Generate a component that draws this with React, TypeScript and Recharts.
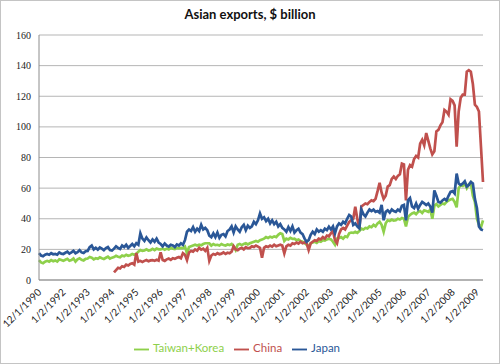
import { LineChart, Line, XAxis, YAxis, CartesianGrid, Legend } from 'recharts'

// one row per year block of 12 months, starting Dec 1990
const TAIWAN_KOREA = [
    13, 11.5, 11, 12, 12.5, 12, 13, 12.3, 12.8, 12, 13.5, 13,
    12.5, 13.2, 13.8, 12.6, 13, 14, 12, 13.5, 14.2, 13.2, 12.8, 13.8,
    14, 15, 14.5, 13.5, 14.2, 13.8, 14.8, 14.2, 13.7, 14.5, 15.2, 14,
    14.6, 15, 15.8, 15.2, 14.8, 16, 15.5, 16.5, 15.8, 16.2, 17, 16.5,
    17, 18.5, 19.6, 19, 19.3, 20, 19.2, 19.5, 20.3, 19.5, 20.5, 20,
    20, 20.5, 19.8, 20.5, 20, 21, 20.4, 20.2, 21, 20.6, 21, 20.8,
    21.8, 17.5, 21.5, 22, 22.5, 23, 22.5, 23, 22.6, 23.5, 24, 24,
    24, 22.5, 23.5, 22.8, 23, 22.5, 23.5, 22.8, 22.5, 23.2, 22.8, 23.5,
    22, 19.6, 23, 23.5, 22.8, 23.5, 24, 23.2, 24, 24.5, 25, 25.5,
    25, 26, 26.5, 27, 28, 27.5, 28.3, 27.8, 28.5, 28, 29.5, 30.5,
    30, 25.5, 27, 26.5, 27.5, 26.8, 27, 26, 26.5, 25.5, 25, 24,
    23, 22, 24, 24.5, 25, 24.3, 25.5, 25, 26, 25.8, 26.5, 27,
    26.5, 25, 23, 27, 27.5, 28, 27, 28.5, 28, 30.5, 31, 30.8,
    31.5, 30.8, 32, 33.5, 33, 34, 33.7, 35, 34.5, 36, 35, 37,
    38, 36, 31.5, 37, 39, 38.5, 39.5, 38.8, 39, 40, 39.5, 40.5,
    40, 35, 41, 42.5, 43.5, 44, 43, 44.5, 45, 43.8, 45.5, 45,
    44.5, 46, 40, 48.5, 49.5, 48, 49, 50, 49.5, 51, 52, 52.5,
    53, 51, 47.5, 60, 62, 61.5, 63, 60, 62.5, 63.5, 55, 51,
    40, 36, 34.5, 39,
]

const CHINA = [
    null, null, null, null, null, null, null, null, null, null, null, null,
    null, null, null, null, null, null, null, null, null, null, null, null,
    null, null, null, null, null, null, null, null, null, null, null, null,
    null, 5, 6.5, 8, 7.5, 9, 8.5, 10, 9.5, 10.5, 11, 10,
    17.6, 12, 12.5, 11.8, 12.5, 13, 12.2, 12.8, 13, 12.5, 13.2, 12.6,
    18, 13, 12.5, 13.5, 14, 13.2, 14.2, 13.8, 14.5, 15, 14.2, 17.5,
    16.5, 13, 18, 19, 18.5, 20, 19.2, 21, 19.8, 20.5, 19, 21,
    12.5, 16, 17, 16.5, 17.5, 16.8, 17.2, 18, 17, 17.8, 17.5, 18.5,
    22, 20, 19.5, 20.5, 21, 20, 21.5, 20.8, 21, 22, 21.5, 22.5,
    21.8, 21, 14.5, 21, 22, 21.5, 22.5, 21.8, 23, 22, 22.5, 23,
    22.5, 17.4, 22, 23, 22.5, 24, 23.5, 24.5, 23.8, 25, 24, 24.5,
    24, 19.6, 24, 25, 26, 25.5, 27, 26.5, 28, 27, 29, 28.5,
    30.5, 32, 26, 24, 30, 33, 34, 33, 35.5, 38, 39, 40,
    47.9, 40, 33.7, 48, 49, 50, 49.5, 51, 52, 51.5, 53, 58,
    63.5, 57, 53, 55, 61, 62, 66, 67.5, 66, 68, 69, 76,
    75.5, 52, 72, 75, 74, 79, 81, 80, 89, 91.5, 88, 96,
    91, 86, 82, 84, 97, 98, 101, 103, 111, 110, 108, 118,
    117, 114, 87, 110, 119, 121, 121, 136, 137, 136, 128, 114.5,
    113, 110, 87, 64,
]

const JAPAN = [
    17.5, 16, 15.5, 16.5, 17, 16.5, 17.5, 16.8, 17, 16.5, 18, 17.2,
    17, 17.8, 18.5, 17.2, 18, 19, 17.5, 18.2, 19.5, 18, 17.6, 18.8,
    19, 21.5, 22.5, 20, 21, 19.8, 21.2, 20.5, 19.5, 20.8, 21.5, 19.6,
    19.2, 20.5, 22, 21, 20.3, 22.5, 21.5, 23, 21, 22.2, 23.5, 22,
    24, 23, 30.5, 27, 25.5, 27.8, 26, 24.5, 26.5, 25, 27, 24.5,
    23.5, 22, 23.8, 22.5, 21.8, 23, 22.6, 21.5, 23.2, 22.5, 24, 23,
    26, 31.5, 33, 32, 34.5, 31.5, 33.5, 32, 36, 33, 34, 32.5,
    29, 28, 30.5, 28, 31, 27.5, 29.5, 30, 28.5, 32, 33, 35,
    31, 35, 33, 31.5, 34.5, 36, 32.5, 35.5, 34, 35, 38, 36.5,
    39, 43.5, 40, 41, 38.5, 40, 37, 39, 36.5, 38, 35, 36.5,
    34, 33, 31.5, 34.5, 32, 35, 31, 32.5, 33.5, 31, 30, 27,
    25, 26, 29.5, 31.5, 30, 33, 31.5, 32.5, 31.5, 33.5, 32.6, 34.8,
    33, 35, 30.5, 35, 37, 36, 38, 37, 40, 42.5, 41.5, 36,
    37, 35, 33.7, 46, 43, 41.5, 44, 46, 45, 46, 44.5, 45,
    44, 49, 39, 44.5, 45.5, 44, 46, 45, 44.5, 46, 45, 48.5,
    49, 39, 52, 53.5, 48, 47, 50, 46.5, 49, 51, 50, 49,
    50, 48, 44, 58.5, 55, 51, 50.5, 52, 53, 52, 55, 57.5,
    58, 56.5, 69.5, 63, 62, 63, 64.5, 61, 62, 64, 63, 53,
    47, 35, 33, 32.5,
]

const TICK_LABELS = [
    '12/1/1990', '1/2/1992', '1/2/1993', '1/2/1994', '1/2/1995', '1/2/1996', '1/2/1997',
    '1/2/1998', '1/2/1999', '1/2/2000', '1/2/2001', '1/2/2002', '1/2/2003', '1/2/2004',
    '1/2/2005', '1/2/2006', '1/2/2007', '1/2/2008', '1/2/2009',
]

const Y_TICKS = [0, 20, 40, 60, 80, 100, 120, 140, 160]

const SERIES_ORDER = ['Taiwan+Korea', 'China', 'Japan']

const data = JAPAN.map((v, i) => ({
    i,
    tk: TAIWAN_KOREA[i],
    china: CHINA[i],
    japan: v,
}))

const SANS = 'Lato, "Open Sans", sans-serif'

const XTick = (props: any) => {
    const { x, y, payload } = props
    const label = TICK_LABELS[Math.round(payload.value / 12)]
    const ax = x + 3
    const ay = y + 13
    return (
        <text x={ax} y={ay} transform={`rotate(-45 ${ax} ${ay})`} textAnchor="end"
            fontSize={10} fontFamily={SANS} fill="#222">
            {label}
        </text>
    )
}

export default function App() {
    return (
        <div style={{ position: 'absolute', left: 0, top: 0, width: 500, height: 364, boxSizing: 'border-box', border: '1px solid #c4c4c4', background: '#fff' }}>
            <div style={{ position: 'absolute', top: 5, left: 0, width: '100%', textAlign: 'center', fontFamily: SANS, fontWeight: 700, fontSize: 13, color: '#111' }}>
                Asian exports, $ billion
            </div>
            <LineChart width={498} height={362} data={data} margin={{ top: 34, right: 16, left: 0, bottom: 0 }}>
                <CartesianGrid vertical={false} stroke="#b5b5b5" />
                <XAxis dataKey="i" type="category" interval={11} tickLine={false} tickSize={0} tickMargin={0}
                    height={49} stroke="#8c8c8c" tick={<XTick />} />
                <YAxis domain={[0, 160]} ticks={Y_TICKS} width={38} tickLine={false} stroke="#8c8c8c"
                    tick={{ fontSize: 10, fontFamily: '"Liberation Serif", serif', fill: '#222' }} />
                <Legend verticalAlign="bottom" height={34} iconSize={15}
                    itemSorter={(item: any) => SERIES_ORDER.indexOf(item.value)}
                    wrapperStyle={{ top: 340, fontSize: 11.5, fontFamily: SANS, color: '#222' }} />
                <Line type="linear" dataKey="tk" name="Taiwan+Korea" stroke="#8ed04b" strokeWidth={2.7} dot={false} legendType="plainline" isAnimationActive={false} />
                <Line type="linear" dataKey="china" name="China" stroke="#c0504d" strokeWidth={2.7} dot={false} legendType="plainline" isAnimationActive={false} />
                <Line type="linear" dataKey="japan" name="Japan" stroke="#2a5797" strokeWidth={2.7} dot={false} legendType="plainline" isAnimationActive={false} />
            </LineChart>
        </div>
    )
}
